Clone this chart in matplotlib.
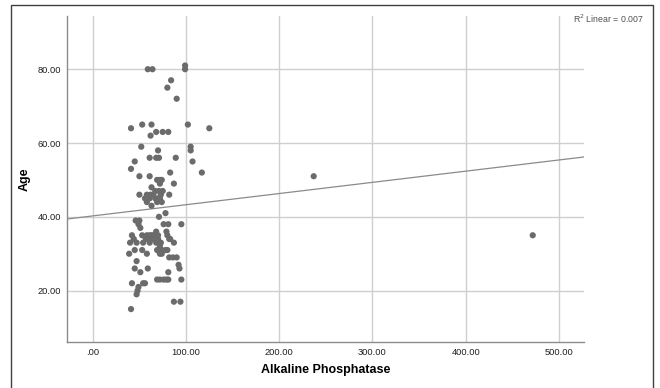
import matplotlib
matplotlib.use("Agg")
import matplotlib.pyplot as plt
from matplotlib.patches import Rectangle
import numpy as np

plt.rcParams['font.family'] = ['Liberation Sans', 'DejaVu Sans']

# Data (Alkaline Phosphatase vs Age)
alp = [59, 64, 99, 99, 84, 80, 90,
       102, 125, 41, 53, 63, 68, 75, 81, 62,
       52, 70, 105, 105, 45, 41, 61, 68, 71, 89, 107, 117, 50, 61, 83,
       69, 72, 74, 72, 87, 63, 67, 71, 75, 50, 82,
       56, 58, 61, 62, 65, 67, 70, 72, 73, 58, 69, 74,
       63, 78, 71, 46, 50, 49, 76, 81, 95, 51, 68, 79,
       42, 53, 58, 61, 63, 65, 68, 70, 80, 83,
       40, 44, 47, 54, 57, 61, 63, 65, 68, 70, 73, 82, 87,
       72, 74, 78, 39, 45, 53, 58, 69, 72, 74, 80,
       82, 86, 90,
       47, 92, 45, 59, 93, 51, 81,
       42, 54, 56, 69, 72, 76, 79, 81, 95,
       49, 48, 47, 41, 87, 94,
       237, 472]
age = [80, 80, 81, 80, 77, 75, 72,
       65, 64, 64, 65, 65, 63, 63, 63, 62,
       59, 58, 59, 58, 55, 53, 56, 56, 56, 56, 55, 52, 51, 51, 52,
       50, 50, 50, 49, 49, 48, 47, 47, 47, 46, 46,
       45, 46, 45, 46, 46, 45, 45, 45, 46, 44, 44, 44,
       43, 41, 40, 39, 39, 38, 38, 38, 38, 37, 36, 36,
       35, 35, 35, 35, 35, 35, 35, 35, 35, 34,
       33, 34, 33, 33, 34, 33, 34, 34, 33, 34, 33, 34, 33,
       32, 31, 31, 30, 31, 31, 30, 31, 30, 30, 31,
       29, 29, 29,
       28, 27, 26, 26, 26, 25, 25,
       22, 22, 22, 23, 23, 23, 23, 23, 23,
       21, 20, 19, 15, 17, 17,
       51, 35]

x_ticks = [0, 100, 200, 300, 400, 500]
x_tick_labels = ['.00', '100.00', '200.00', '300.00', '400.00', '500.00']
y_ticks = [20, 40, 60, 80]
y_tick_labels = ['20.00', '40.00', '60.00', '80.00']

fit_intercept = 40.25
fit_slope = 0.0303
r2_label = 'R$^2$ Linear = 0.007'
x_label = 'Alkaline Phosphatase'
y_label = 'Age'

fig = plt.figure(figsize=(6.6, 3.88), dpi=100)
fig.patch.set_facecolor('white')

# outer frame
fig.patches.append(Rectangle((11/660, -0.05), (653-11)/660, 1 - 5.5/388 + 0.05,
                             transform=fig.transFigure, fill=False,
                             edgecolor='#404040', linewidth=1.0))

ax = fig.add_axes([66.7/660, 1 - 342.3/388, (584 - 66.7)/660, (342.3 - 15.7)/388])
ax.set_xlim(-28, 527)
ax.set_ylim(6, 94.5)

for s in ['top', 'right']:
    ax.spines[s].set_visible(False)
for s in ['left', 'bottom']:
    ax.spines[s].set_color('#8c8c8c')
    ax.spines[s].set_linewidth(1.0)

ax.set_xticks(x_ticks)
ax.set_xticklabels(x_tick_labels)
ax.set_yticks(y_ticks)
ax.set_yticklabels(y_tick_labels)
ax.tick_params(axis='both', length=0, labelsize=6.7, colors='#202020')
ax.tick_params(axis='x', pad=4)
ax.tick_params(axis='y', pad=4)

ax.grid(True, color='#cfcfcf', linewidth=1.0)
ax.set_axisbelow(True)

xs = np.array(ax.get_xlim())
ax.plot(xs, fit_intercept + fit_slope * xs, color='#8a8a8a', linewidth=0.9, zorder=2)

ax.scatter(alp, age, s=20, color='#6b6b6b', edgecolors='none', zorder=3)

ax.set_xlabel(x_label, fontsize=9, fontweight='bold', labelpad=5)
ax.set_ylabel(y_label, fontsize=9, fontweight='bold')
ax.yaxis.set_label_coords((31 - 66.7) / (584 - 66.7), 0.5)

fig.text(644/660, 1 - 19/388, r2_label, ha='right', va='center', fontsize=6.3, color='#505050')

fig.savefig('out.png', dpi=100)
